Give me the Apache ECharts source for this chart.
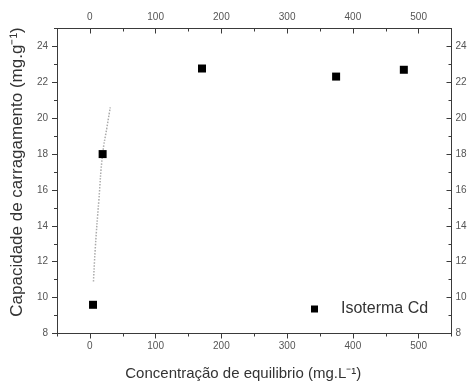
<!DOCTYPE html>
<html>
<head>
<meta charset="utf-8">
<script src="https://cdn.jsdelivr.net/npm/echarts@6/dist/echarts.min.js"></script>
<style>
html,body{margin:0;padding:0;background:#fff;}
#chart{width:471px;height:384px;}
</style>
</head>
<body>
<div id="chart"></div>
<script>
// Data
var isothermX = [4.8, 19.4, 170.5, 374.5, 477.5];
var isothermY = [9.6, 18.0, 22.77, 22.32, 22.7];
var fitX = [5.5, 8.3, 13.6, 19.4, 26, 31];
var fitY = [10.9, 12.8, 15.4, 18.0, 19.5, 20.6];
var xMajorTicks = [0, 100, 200, 300, 400, 500];
var xMinorTicks = [-50, 50, 150, 250, 350, 450, 550];
var yMajorTicks = [8, 10, 12, 14, 16, 18, 20, 22, 24];
var yMinorTicks = [9, 11, 13, 15, 17, 19, 21, 23, 25];
var seriesName = 'Isoterma Cd';
var xTitle = 'Concentração de equilibrio (mg.L⁻¹)';
var yTitle = 'Capacidade de carragamento (mg.g⁻¹)';

var pairs = function (xs, ys) { return xs.map(function (x, i) { return [x, ys[i]]; }); };

var FONT = 'Liberation Sans, Arial, sans-serif';
var lineColor = '#3a3a3a';
var labelStyle = { fontFamily: FONT, fontSize: 10, color: '#555' };

function xAx(pos, major, inside, showLine) {
  return {
    type: 'value', position: pos, min: -50, max: 550, interval: 50,
    axisLine: { show: showLine, onZero: false, lineStyle: { color: lineColor, width: 1 } },
    axisTick: { show: true, inside: inside, length: major ? 5 : 3,
      customValues: major ? xMajorTicks : xMinorTicks,
      lineStyle: { color: lineColor } },
    axisLabel: major ? Object.assign({ show: true, customValues: xMajorTicks, margin: pos === 'top' ? 6 : 8 }, labelStyle) : { show: false },
    splitLine: { show: false }
  };
}
function yAx(pos, major, inside, showLine) {
  return {
    type: 'value', position: pos, min: 8, max: 25, interval: 1,
    axisLine: { show: showLine, onZero: false, lineStyle: { color: lineColor, width: 1 } },
    axisTick: { show: true, inside: inside, length: major ? 5 : 3,
      customValues: major ? yMajorTicks : yMinorTicks,
      lineStyle: { color: lineColor } },
    axisLabel: major ? Object.assign({ show: true, customValues: yMajorTicks, margin: pos === 'left' ? 9 : 4 }, labelStyle) : { show: false },
    splitLine: { show: false }
  };
}

var xBottom = xAx('bottom', true, false, true);
xBottom.name = xTitle;
xBottom.nameLocation = 'middle';
xBottom.nameGap = 33;
xBottom.nameTextStyle = { fontFamily: FONT, fontSize: 15, color: '#333', padding: [0, 22, 0, 0] };

var yLeft = yAx('left', true, false, true);
yLeft.name = yTitle;
yLeft.nameLocation = 'middle';
yLeft.nameGap = 31;
yLeft.nameTextStyle = { fontFamily: FONT, fontSize: 17, color: '#333', padding: [0, 0, 0, 18] };

var chart = echarts.init(document.getElementById('chart'), null, { renderer: 'canvas' });
chart.setOption({
  animation: false,
  backgroundColor: '#fff',
  grid: { left: 57, right: 19.5, top: 28.5, bottom: 50.5, containLabel: false, outerBoundsMode: 'none' },
  legend: {
    data: [{ name: seriesName, icon: 'rect', itemStyle: { color: '#000', opacity: 1 } }],
    left: 311, top: 301, padding: 0,
    itemWidth: 7, itemHeight: 7,
    textStyle: { fontFamily: FONT, fontSize: 16, color: '#333', lineHeight: 16, padding: [0, 0, 0, 18] }
  },
  xAxis: [xBottom, xAx('top', true, true, true), xAx('bottom', false, false, false), xAx('top', false, true, false)],
  yAxis: [yLeft, yAx('right', true, true, true), yAx('left', false, false, false), yAx('right', false, true, false)],
  series: [
    {
      name: 'fit', type: 'line', xAxisIndex: 0, yAxisIndex: 0,
      data: pairs(fitX, fitY), smooth: true, showSymbol: false, symbol: 'none',
      lineStyle: { color: '#aaa', width: 1.5, type: 'dotted' },
      silent: true, z: 1
    },
    {
      name: seriesName, type: 'scatter', xAxisIndex: 0, yAxisIndex: 0,
      data: pairs(isothermX, isothermY), symbol: 'rect', symbolSize: 8,
      itemStyle: { color: '#000', opacity: 1 }, z: 3
    }
  ]
});
</script>
</body>
</html>
